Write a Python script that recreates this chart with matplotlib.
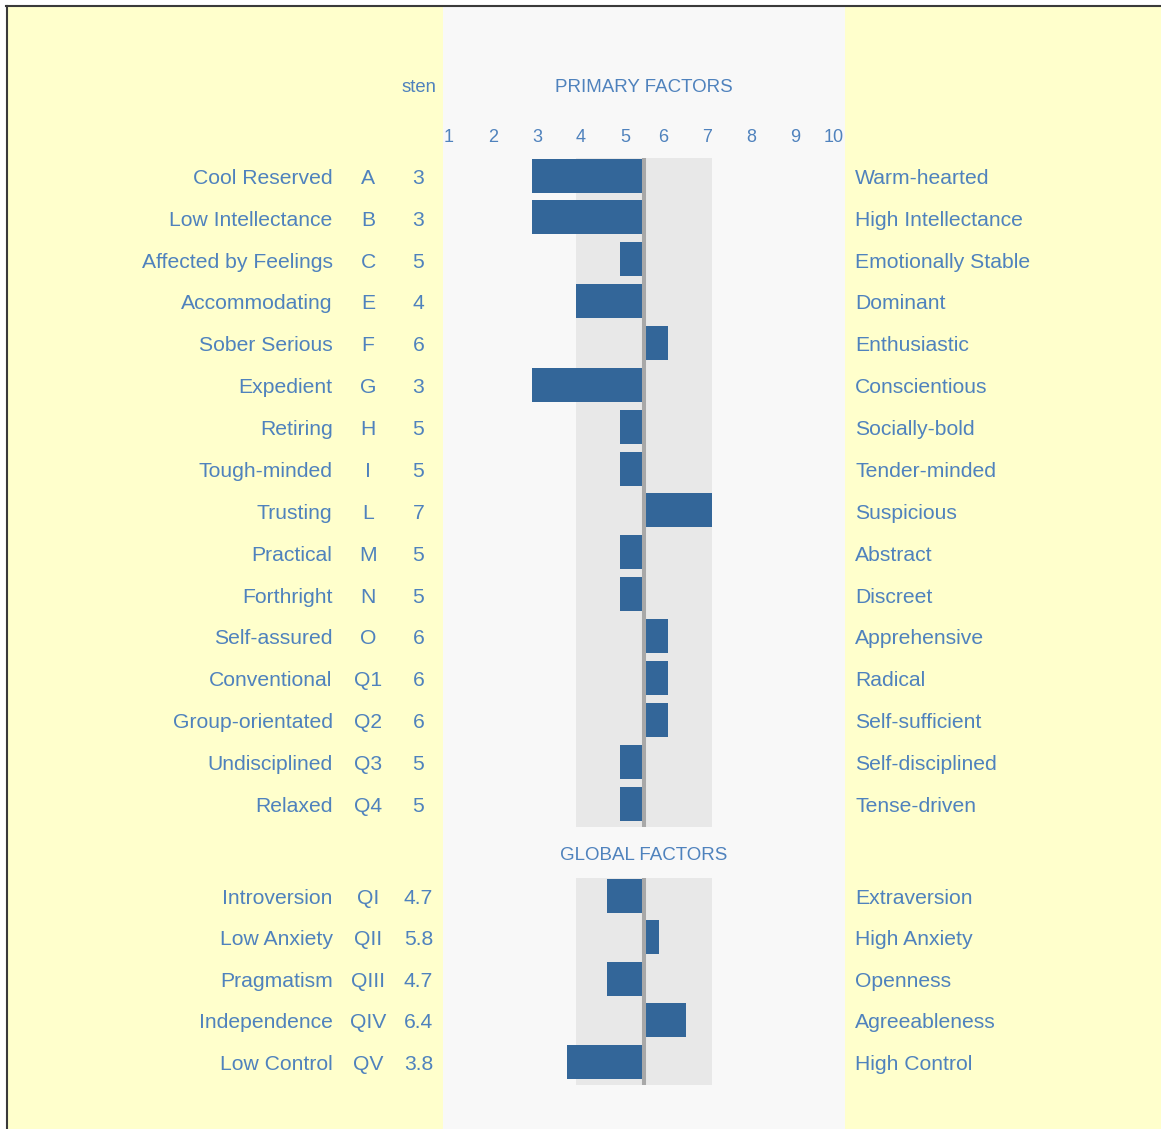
import matplotlib
matplotlib.use("Agg")
import matplotlib.pyplot as plt
from matplotlib.patches import Rectangle
from matplotlib.lines import Line2D
from matplotlib.transforms import ScaledTranslation, blended_transform_factory

# ---------------- data ----------------
primary_left = ["Cool Reserved", "Low Intellectance", "Affected by Feelings", "Accommodating",
                "Sober Serious", "Expedient", "Retiring", "Tough-minded", "Trusting",
                "Practical", "Forthright", "Self-assured", "Conventional", "Group-orientated",
                "Undisciplined", "Relaxed"]
primary_codes = ["A", "B", "C", "E", "F", "G", "H", "I", "L", "M", "N", "O",
                 "Q1", "Q2", "Q3", "Q4"]
primary_sten = [3, 3, 5, 4, 6, 3, 5, 5, 7, 5, 5, 6, 6, 6, 5, 5]
primary_right = ["Warm-hearted", "High Intellectance", "Emotionally Stable", "Dominant",
                 "Enthusiastic", "Conscientious", "Socially-bold", "Tender-minded",
                 "Suspicious", "Abstract", "Discreet", "Apprehensive", "Radical",
                 "Self-sufficient", "Self-disciplined", "Tense-driven"]

global_left = ["Introversion", "Low Anxiety", "Pragmatism", "Independence", "Low Control"]
global_codes = ["QI", "QII", "QIII", "QIV", "QV"]
global_sten = [4.7, 5.8, 4.7, 6.4, 3.8]
global_right = ["Extraversion", "High Anxiety", "Openness", "Agreeableness", "High Control"]

scale_ticks = [1, 2, 3, 4, 5, 6, 7, 8, 9, 10]
midpoint = 5.5
band_range = (4, 7)

# ---------------- style ----------------
W, H = 1161, 1129
YELLOW = "#FFFFCC"
PANEL = "#F8F8F8"
BAND = "#E8E8E8"
BAR = "#336699"
MIDLINE = "#A8A8A8"
TXT = "#4F82BD"
FONT = "Liberation Sans"

plt.rcParams["font.family"] = [FONT, "DejaVu Sans"]

fig = plt.figure(figsize=(W / 100, H / 100), dpi=100)
fig.patch.set_facecolor("white")

def fx(px):
    return px / W

def fy(py):
    return 1 - py / H

# backgrounds
fig.patches.append(Rectangle((fx(7), 0), 1 - fx(7), fy(7), transform=fig.transFigure,
                             facecolor=YELLOW, edgecolor="none", zorder=-3))
fig.patches.append(Rectangle((fx(443), 0), fx(845) - fx(443), fy(7), transform=fig.transFigure,
                             facecolor=PANEL, edgecolor="none", zorder=-2))
# border
fig.lines.append(Line2D([fx(6), 1], [fy(6), fy(6)], transform=fig.transFigure,
                        color="#3a3a3a", lw=1.5, zorder=10))
fig.lines.append(Line2D([fx(7), fx(7)], [fy(6), 0], transform=fig.transFigure,
                        color="#3a3a3a", lw=1.5, zorder=10))

ax = fig.add_axes([fx(446), 0, 396 / W, fy(7)])
ax.set_facecolor("none")
ax.axis("off")

tl = ax.transData + ScaledTranslation(-2 / 100, 0, fig.dpi_scale_trans)
tr = ax.transData + ScaledTranslation(2 / 100, 0, fig.dpi_scale_trans)
tcol = blended_transform_factory(fig.transFigure, ax.transData)

prim_y = [177 + 41.87 * i for i in range(len(primary_sten))]
glob_y = [897 + 41.5 * i for i in range(len(global_sten))]

def draw_block(ys, stens, lefts, codes, rights, fmt):
    top, bot = ys[0] - 19, ys[-1] + 21.5
    # band
    ax.add_patch(Rectangle((band_range[0], top), midpoint - band_range[0], bot - top,
                           transform=tl, facecolor=BAND, edgecolor="none", zorder=1))
    ax.add_patch(Rectangle((midpoint, top), band_range[1] - midpoint, bot - top,
                           transform=tr, facecolor=BAND, edgecolor="none", zorder=1))
    ax.vlines(midpoint, top, bot, color=MIDLINE, lw=2.9, zorder=3)
    by = [y - 1.5 for y in ys]
    for y, v in zip(by, stens):
        if v < midpoint:
            ax.barh(y, midpoint - v, left=v, height=34, color=BAR, transform=tl, zorder=2)
        else:
            ax.barh(y, v - midpoint, left=midpoint, height=34, color=BAR, transform=tr, zorder=2)
    for y, l, c, s, r in zip(ys, lefts, codes, stens, rights):
        yb = y + 6.8
        ax.text(fx(332.5), yb, l, transform=tcol, ha="right", va="baseline",
                fontsize=15.2, color=TXT)
        ax.text(fx(368), yb, c, transform=tcol, ha="center", va="baseline",
                fontsize=15.2, color=TXT)
        ax.text(fx(418.5), yb, fmt(s), transform=tcol, ha="center", va="baseline",
                fontsize=15.2, color=TXT)
        ax.text(fx(855), yb, r, transform=tcol, ha="left", va="baseline",
                fontsize=15.2, color=TXT)

draw_block(prim_y, primary_sten, primary_left, primary_codes, primary_right, lambda s: f"{s}")
draw_block(glob_y, global_sten, global_left, global_codes, global_right, lambda s: f"{s:.1f}")

# scale ticks
for t in scale_ticks:
    if t < midpoint:
        ax.text(t, 142, str(t), transform=tl, ha="left", va="baseline", fontsize=13, color=TXT)
    else:
        ax.text(t, 142, str(t), transform=tr, ha="right", va="baseline", fontsize=13, color=TXT)

ax.text(midpoint, 92, "PRIMARY FACTORS", ha="center", va="baseline", fontsize=13.5, color=TXT)
ax.text(midpoint, 860, "GLOBAL FACTORS", ha="center", va="baseline", fontsize=13.5, color=TXT)
ax.text(fx(419), 92, "sten", transform=tcol, ha="center", va="baseline", fontsize=13.3, color=TXT)

ax.set_xlim(1, 10)
ax.set_ylim(H, 7)

fig.savefig("out.png", dpi=100, facecolor=fig.get_facecolor())
